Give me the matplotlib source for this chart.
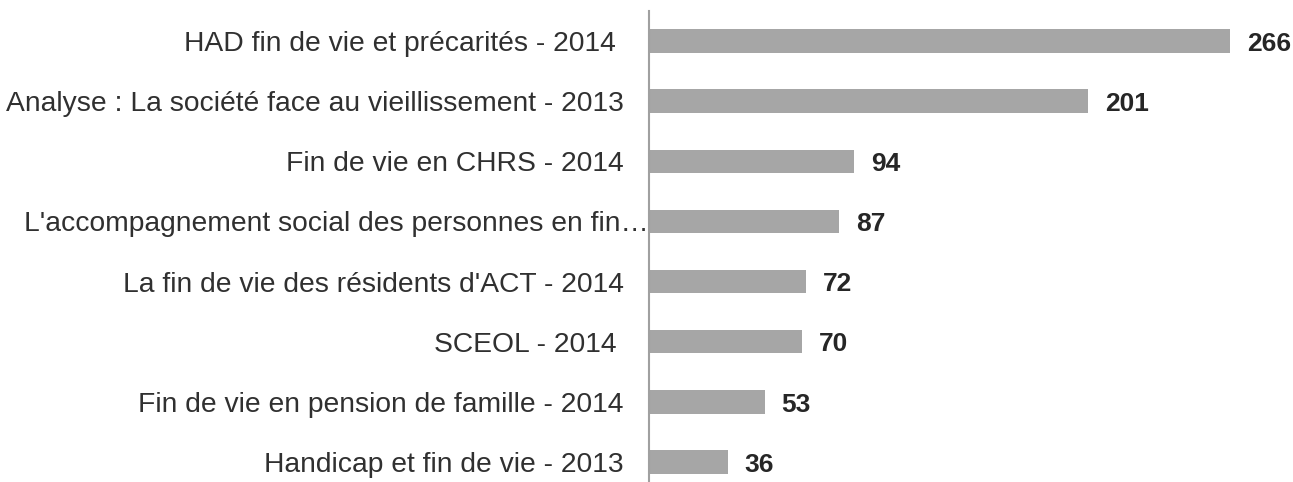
import matplotlib.pyplot as plt

plt.rcParams['font.family'] = ['Liberation Sans', 'DejaVu Sans']

labels = [
    "HAD fin de vie et précarités - 2014 ",
    "Analyse : La société face au vieillissement - 2013",
    "Fin de vie en CHRS - 2014",
    "L'accompagnement social des personnes en fin…",
    "La fin de vie des résidents d'ACT - 2014",
    "SCEOL - 2014 ",
    "Fin de vie en pension de famille - 2014",
    "Handicap et fin de vie - 2013",
]
values = [266, 201, 94, 87, 72, 70, 53, 36]

fig = plt.figure(figsize=(12.93, 4.82), dpi=100)
ax = fig.add_axes([649 / 1293, 1 - 492 / 482, 644 / 1293, (492 - 11) / 482])

pos = range(len(values))
ax.barh(pos, values, height=0.39, color='#a6a6a6')
ax.set_ylim(len(values) - 0.5, -0.5)
ax.set_xlim(0, 644 / (581 / 266))

for i, v in enumerate(values):
    ax.annotate(str(v), (v, i), xytext=(12, -2), textcoords='offset points',
                ha='left', va='center', fontsize=19, fontweight='bold', color='#262626')

ax.set_yticks(list(pos))
ax.set_yticklabels(labels, fontsize=20.3, color='#303030')
ax.tick_params(axis='y', length=0, pad=18)
ax.yaxis.get_major_ticks()[3].set_pad(0)
ax.set_xticks([])

for s in ['top', 'right', 'bottom']:
    ax.spines[s].set_visible(False)
ax.spines['left'].set_color('#a0a0a0')
ax.spines['left'].set_linewidth(1.5)

fig.savefig('out.png', dpi=100)
